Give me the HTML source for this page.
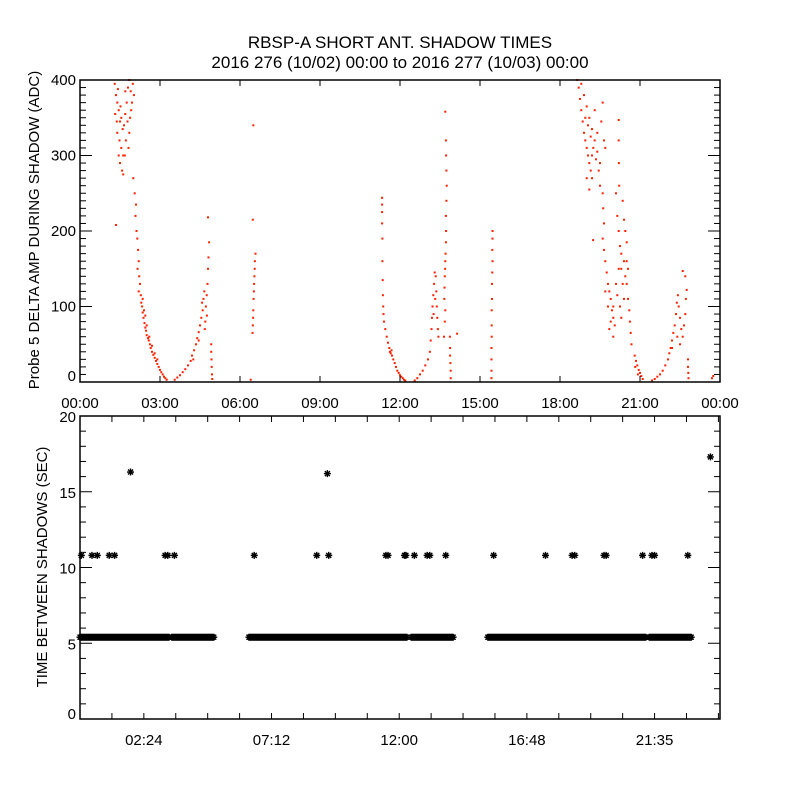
<!DOCTYPE html>
<html><head><meta charset="utf-8"><style>
body{margin:0;background:#fff;}
svg{display:block;font-family:"Liberation Sans",sans-serif;}
</style></head><body>
<svg id="chart" width="800" height="800" viewBox="0 0 800 800" xmlns="http://www.w3.org/2000/svg">
<rect width="800" height="800" fill="#fff"/>
<text x="400" y="48" font-size="17" text-anchor="middle">RBSP-A SHORT ANT. SHADOW TIMES</text>
<text x="400" y="68" font-size="17" text-anchor="middle">2016 276 (10/02) 00:00 to 2016 277 (10/03) 00:00</text>
<g id="topPanel"></g><g id="botPanel"></g>
</svg>
<script>
// ---- Top panel data: [hour, delta amp]
const ampPoints = [
[1.3,395],[1.35,380],[1.4,370],[1.32,355],[1.45,360],[1.5,345],[1.55,350],[1.6,335],[1.4,330],[1.48,320],[1.55,310],[1.62,300],[1.5,290],[1.58,280],[1.45,300],[1.7,355],[1.75,370],[1.8,390],[1.85,400],[1.9,385],[1.95,370],[1.78,345],[1.85,330],[1.92,360],[1.72,320],[1.82,310],[1.68,300],[1.62,275],[1.98,395],[2.02,380],[1.38,345],[1.52,365],[1.65,340],[1.88,350],[1.7,385],[1.42,388],[1.35,208],
[2.0,270],[2.05,250],[2.1,235],[2.08,220],[2.12,200],[2.15,190],[2.18,175],[2.2,160],[2.16,150],[2.22,140],[2.25,130],[2.2,120],[2.28,115],[2.3,105],[2.33,100],[2.35,92],[2.38,85],[2.42,78],[2.45,72],[2.48,68],[2.5,62],[2.55,58],[2.58,55],[2.62,50],[2.65,45],[2.7,40],[2.75,36],[2.8,32],[2.85,28],[2.9,24],[2.95,20],[3.0,16],[3.05,13],[3.1,10],[3.15,7],[3.2,5],[3.25,3],[2.4,95],[2.5,75],[2.6,60],[2.7,48],[2.8,38],[2.9,30],[2.35,110],[2.45,88],
[3.55,3],[3.65,6],[3.75,9],[3.85,13],[3.95,17],[4.05,22],[4.15,28],[4.2,35],[4.28,42],[4.35,50],[4.4,58],[4.45,66],[4.5,75],[4.55,85],[4.6,95],[4.63,110],[4.66,120],[4.72,100],[4.75,115],[4.78,130],[4.8,150],[4.82,165],[4.84,185],[4.8,218],[4.7,80],[4.76,88],[4.58,105],[4.68,70],[4.25,30],[4.45,55],[4.92,50],[4.92,40],[4.93,30],[4.94,20],[4.95,10],[4.96,4],
[6.5,340],[6.48,215],[6.58,170],[6.56,160],[6.55,150],[6.54,140],[6.53,130],[6.52,120],[6.51,110],[6.5,95],[6.49,85],[6.48,75],[6.47,65],[6.4,3],
[11.33,244],[11.33,235],[11.33,225],[11.33,210],[11.34,190],[11.34,160],[11.35,135],[11.36,115],[11.37,100],[11.38,90],[11.4,80],[11.45,70],[11.5,60],[11.55,52],[11.6,45],[11.62,40],[11.65,38],[11.7,35],[11.68,42],[11.75,30],[11.8,25],[11.85,20],[11.9,15],[11.95,12],[12.0,9],[12.05,7],[12.1,5],[12.15,3],[12.2,2],
[12.55,2],[12.65,5],[12.75,10],[12.85,15],[12.95,22],[13.05,30],[13.12,40],[13.15,55],[13.18,70],[13.2,85],[13.22,100],[13.25,115],[13.28,130],[13.3,145],[13.34,140],[13.36,120],[13.38,100],[13.4,85],[13.42,70],[13.44,60],[13.26,90],[13.32,110],
[13.7,358],[13.72,320],[13.73,300],[13.74,280],[13.75,260],[13.74,240],[13.72,220],[13.73,200],[13.72,185],[13.71,170],[13.7,160],[13.69,150],[13.68,140],[13.67,125],[13.66,110],[13.7,95],[13.68,80],[13.65,60],[13.87,60],[13.88,45],[13.88,35],[13.89,25],[13.9,15],[13.9,5],[14.14,64],
[15.47,200],[15.47,190],[15.46,175],[15.47,160],[15.46,145],[15.45,130],[15.45,110],[15.44,95],[15.44,75],[15.44,60],[15.43,45],[15.43,30],[15.43,15],[15.43,5],
[18.65,400],[18.7,390],[18.75,375],[18.8,360],[18.85,345],[18.9,330],[18.95,320],[19.0,310],[19.05,300],[19.1,290],[19.15,280],[19.2,270],[18.8,395],[18.9,380],[19.0,365],[19.1,350],[19.2,335],[19.3,320],[19.4,305],[19.5,290],[19.05,340],[19.15,325],[19.25,310],[19.35,295],[19.45,280],[19.0,270],[19.1,255],[19.55,345],[19.6,370],[19.65,320],[19.3,360],[18.95,350],[19.4,330],[19.7,310],[19.2,300],[19.5,260],[19.24,188],
[19.6,250],[19.62,230],[19.65,210],[19.6,190],[19.65,175],[19.7,160],[19.75,145],[19.8,130],[19.85,120],[19.9,110],[19.95,95],[20.0,85],[20.05,75],[19.7,120],[19.8,100],[19.9,80],[20.0,100],[20.1,130],[20.15,115],[20.2,150],[20.2,347],[20.2,320],[20.21,290],[20.22,260],[20.1,250],[20.15,220],[20.2,200],[20.25,180],[20.3,170],[20.35,240],[20.4,215],[20.45,200],[20.5,185],[20.4,160],[20.45,140],[20.5,130],[20.55,110],[20.6,95],[20.62,80],[20.65,65],[20.68,50],[20.3,150],[20.35,130],[20.25,100],[20.3,85],[20.0,60],[19.85,70],[20.4,110],[20.5,160],[20.55,150],
[20.8,35],[20.85,28],[20.9,22],[20.95,16],[21.0,12],[21.05,8],[21.1,4],[20.82,20],[20.92,10],
[21.45,2],[21.55,4],[21.65,7],[21.75,10],[21.85,15],[21.95,22],[22.05,30],[22.1,38],[22.15,45],[22.2,55],[22.25,65],[22.3,75],[22.35,90],[22.38,105],[22.42,115],[22.45,100],[22.5,85],[22.55,70],[22.6,60],[22.65,75],[22.7,90],[22.72,110],[22.75,122],[22.7,140],[22.6,147],[22.2,45],[22.4,60],[22.5,50],[22.8,30],[22.8,20],[22.81,12],[22.82,5],[23.7,5],[23.75,8]
];
const topXTicks = [0,3,6,9,12,15,18,21,24];
const topXLabels = ["00:00","03:00","06:00","09:00","12:00","15:00","18:00","21:00","00:00"];
const topYTicks = [0,100,200,300,400];

// ---- Bottom panel data
const bandStart = [0.0, 3.45, 6.35, 12.45, 15.33, 21.4];
const bandEnd   = [3.35, 5.05, 12.3, 14.06, 21.3, 23.0];
const bandValue = 5.4;
const gapTimes  = [0.05,0.45,0.65,1.1,1.3,1.9,3.2,3.3,3.55,6.55,8.9,9.35,11.5,11.58,12.2,12.25,12.57,13.05,13.15,13.75,15.55,17.5,18.5,18.6,19.7,19.78,21.15,21.5,21.6,22.85];
const gapValues = [10.8,10.8,10.8,10.8,10.8,16.3,10.8,10.8,10.8,10.8,10.8,10.8,10.8,10.8,10.8,10.8,10.8,10.8,10.8,10.8,10.8,10.8,10.8,10.8,10.8,10.8,10.8,10.8,10.8,10.8];
const extraTimes = [9.3, 23.7];
const extraValues = [16.2, 17.3];
const botXTicks = [0,1.2,2.4,3.6,4.8,6.0,7.2,8.4,9.6,10.8,12.0,13.2,14.4,15.6,16.8,18.0,19.2,20.4,21.6,22.8,24.0];
const botXLabelTimes = [2.4,7.2,12.0,16.8,21.6];
const botXLabels = ["02:24","07:12","12:00","16:48","21:35"];
const botYTicks = [0,5,10,15,20];

const NS="http://www.w3.org/2000/svg";
function mk(parent,tag,attrs){const e=document.createElementNS(NS,tag);for(const k in attrs)e.setAttribute(k,attrs[k]);parent.appendChild(e);return e;}

// Top axes
const TL=80,TR=720,TT=80,TB=382;
const tx=h=>TL+h*(TR-TL)/24;
const ty=v=>TB-v*(TB-TT)/400;
const topG=document.getElementById('topPanel');
const dots=mk(topG,'g',{});


ampPoints.forEach(p=>{
  const r=mk(dots,'rect',{x:(tx(p[0])-1).toFixed(1),y:(ty(p[1])-1).toFixed(1),width:2,height:2,fill:'#ff2000'});
  
  
});
const tf=mk(topG,'rect',{x:TL,y:TT,width:TR-TL,height:TB-TT,fill:'none',stroke:'#000','stroke-width':1.5});


topXTicks.forEach((h,i)=>{
  const x=tx(h);
  mk(topG,'line',{x1:x,y1:TB,x2:x,y2:TB-6,stroke:'#000'});
  mk(topG,'line',{x1:x,y1:TT,x2:x,y2:TT+6,stroke:'#000'});
  const t=mk(topG,'text',{x:x,y:TB+26,'font-size':15,'text-anchor':'middle'});
  t.textContent=topXLabels[i];
  
  
});
for(let v=0;v<=400;v+=10){
  const y=ty(v),len=(v%100===0)?12:6;
  mk(topG,'line',{x1:TL,y1:y,x2:TL+len,y2:y,stroke:'#000'});
  mk(topG,'line',{x1:TR,y1:y,x2:TR-len,y2:y,stroke:'#000'});
}
topYTicks.forEach(v=>{
  const t=mk(topG,'text',{x:TL-4,y:Math.min(ty(v)+5,TB-1),'font-size':15,'text-anchor':'end'});
  t.textContent=v;
  
  
});
const tyl=mk(topG,'text',{x:0,y:0,'font-size':15,'text-anchor':'middle',transform:'translate(39,230) rotate(-90)'});
tyl.textContent='Probe 5 DELTA AMP DURING SHADOW (ADC)';



// Bottom axes
const BL=80,BR=720,BT=416,BB=719;
const XMAX=24.06;
const bx=h=>BL+h*(BR-BL)/XMAX;
const by=v=>BB-v*(BB-BT)/20;
const botG=document.getElementById('botPanel');
function star(g,x,y,name){
  const s=mk(g,'path',{d:`M${x-3.5} ${y}h7M${x} ${y-3.5}v7M${x-2.5} ${y-2.5}l5 5M${x-2.5} ${y+2.5}l5 -5`,stroke:'#000','stroke-width':1.4,fill:'none'});
  
  
}
const band=mk(botG,'g',{});


bandStart.forEach((s,i)=>{
  const x0=bx(s),x1=bx(bandEnd[i]);
  for(let x=x0;x<=x1;x+=1) star(band,x,by(bandValue),'band-point');
});
const gp=mk(botG,'g',{});


gapTimes.forEach((h,i)=>star(gp,bx(h),by(gapValues[i]),'gap-point'));
extraTimes.forEach((h,i)=>star(gp,bx(h),by(extraValues[i]),'gap-point'));
const bf=mk(botG,'rect',{x:BL,y:BT,width:BR-BL,height:BB-BT,fill:'none',stroke:'#000','stroke-width':1.5});


botXTicks.forEach(h=>{
  const x=bx(h); if(x>BR+0.5)return;
  mk(botG,'line',{x1:x,y1:BB,x2:x,y2:BB-6,stroke:'#000'});
  mk(botG,'line',{x1:x,y1:BT,x2:x,y2:BT+6,stroke:'#000'});
});
botXLabelTimes.forEach((h,i)=>{
  const t=mk(botG,'text',{x:bx(h),y:BB+26,'font-size':15,'text-anchor':'middle'});
  t.textContent=botXLabels[i];
  
  
});
for(let v=0;v<=20;v++){
  const y=by(v),len=(v%5===0)?12:6;
  mk(botG,'line',{x1:BL,y1:y,x2:BL+len,y2:y,stroke:'#000'});
  mk(botG,'line',{x1:BR,y1:y,x2:BR-len,y2:y,stroke:'#000'});
}
botYTicks.forEach(v=>{
  const t=mk(botG,'text',{x:BL-4,y:Math.min(by(v)+6,BB),'font-size':15,'text-anchor':'end'});
  t.textContent=v;
  
  
});
const byl=mk(botG,'text',{x:0,y:0,'font-size':15,'text-anchor':'middle',transform:'translate(47,567) rotate(-90)'});
byl.textContent='TIME BETWEEN SHADOWS (SEC)';


</script>
</body></html>
